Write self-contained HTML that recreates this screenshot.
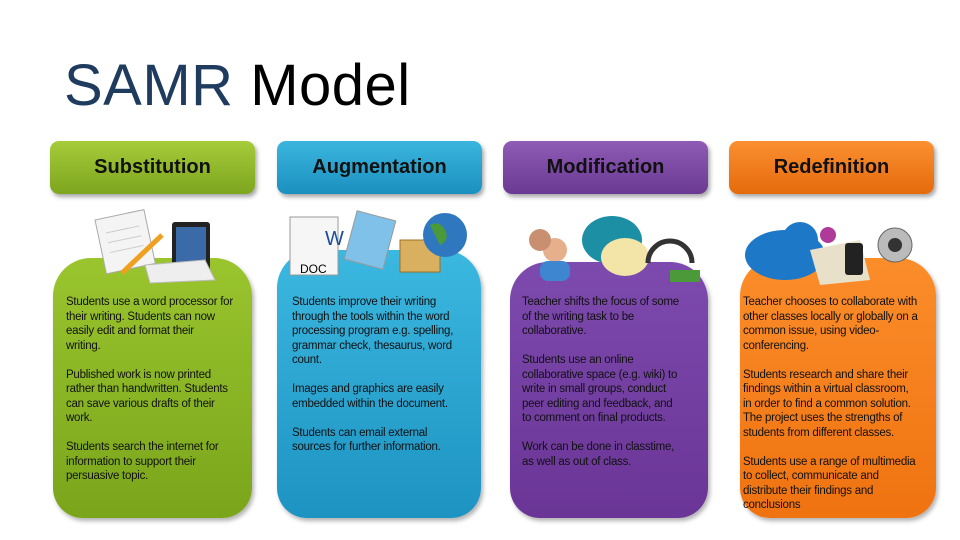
<!DOCTYPE html>
<html><head><meta charset="utf-8"><style>
body{margin:0;width:960px;height:540px;background:#fff;position:relative;overflow:hidden;font-family:"Liberation Sans",sans-serif}
.t{position:absolute;left:64px;top:52px;font-size:58px;color:#000;letter-spacing:0.5px}
.t span{color:#1f3b5e}
.h{position:absolute;top:141px;height:53px;width:205px;border-radius:9px;font-weight:bold;font-size:20px;color:#111;text-align:center;line-height:52px;box-shadow:2px 3px 4px rgba(0,0,0,.35)}
.c{position:absolute;top:258px;height:260px;border-radius:38px 38px 30px 30px;box-shadow:2px 3px 4px rgba(0,0,0,.3)}
.x{position:absolute;top:295px;font-size:11.5px;line-height:14.5px;color:#111;letter-spacing:-0.25px;white-space:nowrap}
.x p{margin:0 0 14.5px 0}
</style></head><body>
<div class="t"><span>SAMR</span> Model</div>
<div class="h" style="left:50px;background:linear-gradient(#a6cc3a,#7da51e)">Substitution</div>
<div class="h" style="left:277px;background:linear-gradient(#3bb5de,#1a90bf)">Augmentation</div>
<div class="h" style="left:503px;background:linear-gradient(#8e5bb5,#6a3a92)">Modification</div>
<div class="h" style="left:729px;background:linear-gradient(#fb9032,#e56a0a)">Redefinition</div>

<div class="c" style="left:53px;width:199px;background:linear-gradient(#9ac52e,#7aa51b)"></div>
<div class="c" style="left:277px;width:204px;top:250px;height:268px;background:linear-gradient(#3bb8e0,#1d93c2)"></div>
<div class="c" style="left:510px;width:198px;top:262px;height:256px;background:linear-gradient(#7d4aae,#6a3596)"></div>
<div class="c" style="left:740px;width:196px;top:258px;background:linear-gradient(#fb8d2a,#ef7310)"></div>

<svg style="position:absolute;left:0;top:195px" width="960" height="90">
<g transform="translate(95,25) rotate(-12)"><rect width="50" height="55" fill="#f4f4f4" stroke="#aaa"/><line x1="8" y1="15" x2="42" y2="15" stroke="#ccc"/><line x1="8" y1="25" x2="42" y2="25" stroke="#ccc"/><line x1="8" y1="35" x2="42" y2="35" stroke="#ccc"/></g>
<line x1="122" y1="78" x2="162" y2="40" stroke="#f0a020" stroke-width="5"/>
<rect x="172" y="27" width="38" height="50" rx="3" fill="#222"/><rect x="176" y="32" width="30" height="40" fill="#3a6aa8"/>
<polygon points="145,70 205,65 215,85 150,88" fill="#eee" stroke="#bbb"/>
<rect x="290" y="22" width="48" height="58" fill="#f6f6f6" stroke="#999"/><text x="300" y="78" font-size="12" font-family="Liberation Sans">DOC</text><text x="325" y="50" font-size="20" fill="#1a4e9a" font-family="Liberation Sans">W</text>
<rect x="350" y="20" width="40" height="50" fill="#7fc1e8" stroke="#999" transform="rotate(15 370 45)"/>
<rect x="400" y="45" width="40" height="32" fill="#d8b060" stroke="#a07020"/>
<circle cx="445" cy="40" r="22" fill="#2f78c0"/><path d="M430 30 q10 -5 15 5 q5 10 -5 15z" fill="#4a9a3a"/>
<circle cx="555" cy="55" r="12" fill="#e6b08c"/><circle cx="540" cy="45" r="11" fill="#c89070"/><rect x="540" y="66" width="30" height="20" rx="8" fill="#3e86d0"/>
<ellipse cx="612" cy="45" rx="30" ry="24" fill="#1d8fa5"/><ellipse cx="625" cy="62" rx="24" ry="19" fill="#f3e4a8"/>
<path d="M648 68 a22 22 0 0 1 44 0" fill="none" stroke="#333" stroke-width="5"/><rect x="670" y="75" width="30" height="12" fill="#4a9a3a"/>
<ellipse cx="785" cy="60" rx="40" ry="25" fill="#1e78c8"/><circle cx="800" cy="45" r="18" fill="#1e78c8"/>
<polygon points="810,55 860,45 870,85 820,90" fill="#e8e0c8"/><rect x="845" y="48" width="18" height="32" rx="3" fill="#222"/>
<circle cx="828" cy="40" r="8" fill="#b03a9a"/><circle cx="895" cy="50" r="17" fill="#bbb" stroke="#666"/><circle cx="895" cy="50" r="7" fill="#333"/>
</svg>

<div class="x" style="left:66px"><p>Students use a word processor for<br>their writing. Students can now<br>easily edit and format their<br>writing.</p><p>Published work is now printed<br>rather than handwritten. Students<br>can save various drafts of their<br>work.</p><p>Students search the internet for<br>information to support their<br>persuasive topic.</p></div>
<div class="x" style="left:292px"><p>Students improve their writing<br>through the tools within the word<br>processing program e.g. spelling,<br>grammar check, thesaurus, word<br>count.</p><p>Images and graphics are easily<br>embedded within the document.</p><p>Students can email external<br>sources for further information.</p></div>
<div class="x" style="left:522px"><p>Teacher shifts the focus of some<br>of the writing task to be<br>collaborative.</p><p>Students use an online<br>collaborative space (e.g. wiki) to<br>write in small groups, conduct<br>peer editing and feedback, and<br>to comment on final products.</p><p>Work can be done in classtime,<br>as well as out of class.</p></div>
<div class="x" style="left:743px"><p>Teacher chooses to collaborate with<br>other classes locally or globally on a<br>common issue, using video-<br>conferencing.</p><p>Students research and share their<br>findings within a virtual classroom,<br>in order to find a common solution.<br>The project uses the strengths of<br>students from different classes.</p><p>Students use a range of multimedia<br>to collect, communicate and<br>distribute their findings and<br>conclusions</p></div>
</body></html>
